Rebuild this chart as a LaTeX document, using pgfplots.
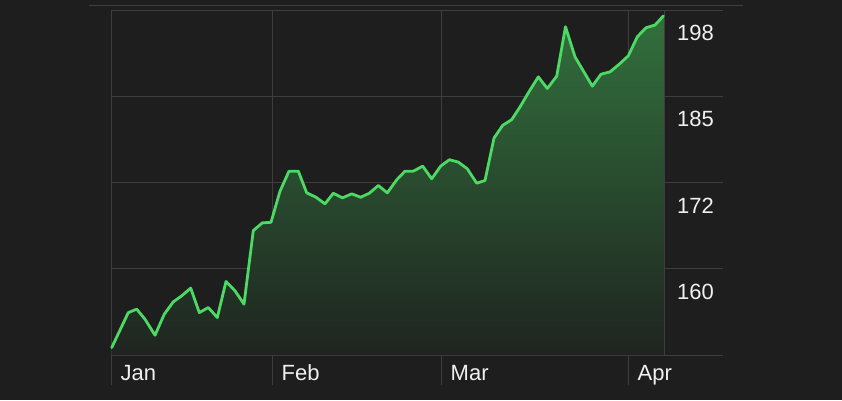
\documentclass[border=0pt]{standalone}
\usepackage{pgfplots}
\usepackage{pgfplotstable}
\pgfplotsset{compat=1.18}
\usepackage{fontspec}
\setmainfont{Liberation Sans}
\definecolor{bg}{RGB}{30,30,30}
\definecolor{gridc}{RGB}{62,62,62}
\definecolor{linec}{RGB}{76,217,100}
\definecolor{filltop}{RGB}{50,112,60}
\definecolor{fillbot}{RGB}{31,36,32}
\definecolor{labc}{RGB}{240,240,240}

\pgfplotstableread{
x y
111.7 148.41
128.3 153.56
136.7 154.06
145.0 152.59
155.0 150.23
164.3 153.33
173.3 155.14
181.7 156.02
190.7 157.16
199.3 153.56
208.3 154.30
217.3 152.83
226.0 158.13
235.0 156.76
244.0 154.80
253.3 165.60
262.3 166.73
271.0 166.82
280.0 171.38
289.0 174.33
298.3 174.33
306.7 171.15
316.0 170.50
325.0 169.53
333.3 171.09
342.5 170.41
351.7 171.00
360.7 170.50
369.3 171.09
378.3 172.22
387.3 171.15
396.7 173.06
405.0 174.33
413.3 174.33
422.7 175.07
431.7 173.21
440.7 175.07
449.3 176.01
458.3 175.66
467.3 174.68
476.7 172.56
485.0 172.96
494.0 179.19
502.7 181.06
511.7 181.90
520.0 183.76
529.3 186.07
538.3 188.18
547.3 186.47
556.7 188.28
565.5 195.54
575.0 191.12
583.3 189.06
592.3 186.81
601.0 188.57
610.0 188.91
619.3 190.05
628.3 191.27
637.3 194.07
646.0 195.39
655.0 195.79
663.3 197.12
}\prices

\begin{document}
\begin{tikzpicture}[x=1pt,y=1pt]
\fill[bg, use as bounding box] (0,0) rectangle (842,400);
\draw[gridc, line width=0.8pt] (89,395) -- (743,395);
\begin{axis}[
  at={(111pt,45pt)}, anchor=south west,
  scale only axis, width=612pt, height=345pt,
  xmin=111, xmax=723, ymin=147.33, ymax=198,
  clip=false,
  axis line style={draw=none},
  major tick length=0pt,
  tick style={draw=none},
  xtick={111,272,441,628},
  xticklabels={Jan,Feb,Mar,Apr},
  extra x ticks={664},
  extra x tick labels={},
  extra x tick style={grid=major},
  ytick={147.33,160,172.67,185.33,198},
  yticklabels={,160,172,185,198},
  grid=major,
  major grid style={color=gridc, line width=0.8pt},
  tick label style={font=\fontsize{22}{24}\selectfont, color=labc},
  xticklabel style={anchor=base west, inner sep=0pt, xshift=9.5pt, yshift=-25pt},
  yticklabel pos=right,
  yticklabel style={anchor=east, inner sep=0pt, xshift=-9pt, yshift=-23pt},
]
\addplot[draw=none, top color=filltop, bottom color=fillbot] table[x=x,y=y] {\prices} \closedcycle;
\addplot[color=linec, line width=2.8pt, line join=round, line cap=round, mark=none] table[x=x,y=y] {\prices};
\foreach \xx in {111,272,441,628} {
  \edef\temp{\noexpand\draw[gridc, line width=0.8pt] (axis cs:\xx,147.33) -- ([yshift=-30pt]axis cs:\xx,147.33);}
  \temp
}
\end{axis}
\end{tikzpicture}
\end{document}
